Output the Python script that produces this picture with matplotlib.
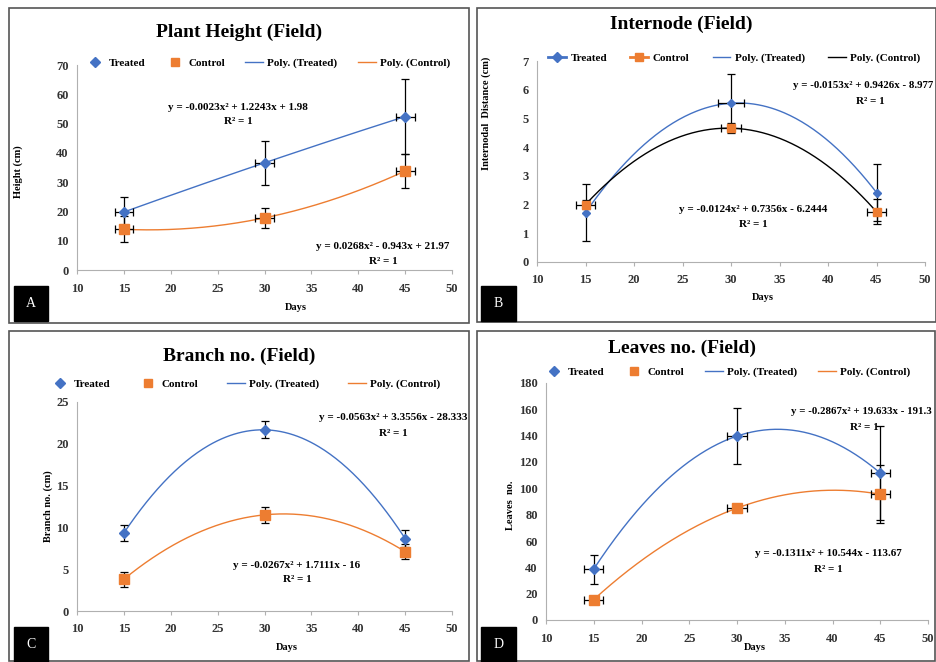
import numpy as np
import matplotlib
matplotlib.use("Agg")
import matplotlib.pyplot as plt
from matplotlib.lines import Line2D
from matplotlib.patches import Rectangle

# data
days = [15, 30, 45]

height_treated = [19.8, 36.6, 52.4]
height_treated_err = [5.0, 7.5, 12.8]
height_control = [13.9, 17.8, 33.8]
height_control_err = [4.5, 3.3, 5.8]

inter_treated = [1.72, 5.53, 2.42]
inter_treated_err = [1.0, 1.0, 1.0]
inter_control = [2.0, 4.66, 1.75]
inter_control_err = [0.15, 0.17, 0.43]

branch_treated = [9.33, 21.67, 8.67]
branch_treated_err = [1.0, 1.0, 1.0]
branch_control = [3.8, 11.5, 7.1]
branch_control_err = [0.9, 0.95, 0.9]

leaves_treated = [38.7, 139.7, 111.6]
leaves_treated_err = [11.0, 21.0, 36.0]
leaves_control = [15.5, 85.0, 95.5]
leaves_control_err = [1.5, 2.0, 22.0]

W, H = 936, 662
BLUE = "#4472C4"
ORANGE = "#ED7D31"
SERIF = "Liberation Serif"

fig = plt.figure(figsize=(W / 100, H / 100), dpi=100)
fig.patch.set_facecolor("white")


def fx(x):
    return x / W


def fy(y):
    return 1 - y / H


def box(x0, y0, x1, y1, **kw):
    fig.patches.append(Rectangle((fx(x0), fy(y1)), fx(x1 - x0), (y1 - y0) / H,
                                 transform=fig.transFigure, **kw))


def txt(x, y, s, **kw):
    d = dict(ha="center", va="center", family=SERIF, fontweight="bold", fontsize=8)
    d.update(kw)
    fig.text(fx(x), fy(y), s, **d)


def panel(rect, ylim, yticks, tr, tr_err, ct, ct_err, xerr_t, xerr_c,
          poly_ctrl_color=ORANGE, small=False):
    l, t, r, b = rect
    ax = fig.add_axes([fx(l), fy(b), fx(r - l), (b - t) / H])
    ax.set_xlim(10, 50)
    ax.set_ylim(*ylim)
    ax.set_xticks(range(10, 51, 5))
    ax.set_yticks(yticks)
    for s in ["top", "right"]:
        ax.spines[s].set_visible(False)
    for s in ["left", "bottom"]:
        ax.spines[s].set_color("#b0b0b0")
    ax.tick_params(axis="y", length=0, pad=6)
    ax.tick_params(axis="x", length=3, color="#b0b0b0", pad=6)
    for lab in ax.get_xticklabels() + ax.get_yticklabels():
        lab.set_family(SERIF)
        lab.set_fontweight("bold")
        lab.set_fontsize(9)
        lab.set_color("#333333")

    xs = np.linspace(15, 45, 200)
    ax.plot(xs, np.polyval(np.polyfit(days, tr, 2), xs), color=BLUE, lw=1, zorder=2)
    ax.plot(xs, np.polyval(np.polyfit(days, ct, 2), xs), color=poly_ctrl_color, lw=1, zorder=2)

    ms_d = 4.5 if small else 5.5
    ms_s = 6 if small else 7
    ax.errorbar(days, tr, yerr=tr_err, xerr=xerr_t, fmt="D", color=BLUE, ms=ms_d,
                ecolor="black", elinewidth=0.9, capsize=3, capthick=0.9, zorder=3)
    ax.errorbar(days, ct, yerr=ct_err, xerr=xerr_c, fmt="s", color=ORANGE, ms=ms_s,
                ecolor="black", elinewidth=0.9, capsize=3, capthick=0.9, zorder=3)
    return ax


def legend(ax, x0, x1, y, line_markers=False, ctrl_color=ORANGE):
    ls = "-" if line_markers else "none"
    handles = [
        Line2D([], [], color=BLUE, marker="D", ms=5, ls=ls, lw=2),
        Line2D([], [], color=ORANGE, marker="s", ms=6, ls=ls, lw=2),
        Line2D([], [], color=BLUE, lw=1),
        Line2D([], [], color=ctrl_color, lw=1),
    ]
    labels = ["Treated", "Control", "Poly. (Treated)", "Poly. (Control)"]
    ax.legend(handles, labels, loc="lower left", ncol=4, mode="expand",
              bbox_to_anchor=(fx(x0), fy(y) - 0.015, fx(x1 - x0), 0.03),
              bbox_transform=fig.transFigure, frameon=False, handlelength=1.6,
              handletextpad=0.4, borderaxespad=0,
              prop=dict(family=SERIF, weight="bold", size=8))


# panel frames
for x0, y0, x1, y1 in [(9, 8, 469, 323), (477, 8, 936, 322),
                       (9, 331, 469, 661), (477, 331, 935, 661)]:
    box(x0, y0, x1, y1, fill=False, edgecolor="#555555", lw=1.2)

# A
ax = panel((77, 65, 452, 270), (0, 70), range(0, 71, 10),
           height_treated, height_treated_err, height_control, height_control_err, 1, 1)
legend(ax, 82, 455, 63)
txt(239, 32, "Plant Height (Field)", fontsize=14)
txt(18, 172, "Height (cm)", rotation=90, fontsize=7.5)
txt(296, 307, "Days", fontsize=7.5)
txt(238, 107, "y = -0.0023x² + 1.2243x + 1.98")
txt(238, 122, "R² = 1")
txt(383, 247, "y = 0.0268x² - 0.943x + 21.97")
txt(383, 261, "R² = 1")

# B
ax = panel((537, 61, 925, 262), (0, 7), range(0, 8),
           inter_treated, inter_treated_err, inter_control, inter_control_err,
           [0, 1.35, 0], 1, poly_ctrl_color="black", small=True)
legend(ax, 544, 925, 58, line_markers=True, ctrl_color="black")
txt(681, 24, "Internode (Field)", fontsize=14)
txt(486, 113, "Internodal  Distance (cm)", rotation=90, fontsize=7.5)
txt(763, 298, "Days", fontsize=7.5)
txt(933, 86, "y = -0.0153x² + 0.9426x - 8.977", ha="right", fontsize=7.8)
txt(870, 101, "R² = 1")
txt(753, 209, "y = -0.0124x² + 0.7356x - 6.2444")
txt(753, 224, "R² = 1")

# C
ax = panel((77, 402, 452, 611), (0, 25), range(0, 26, 5),
           branch_treated, branch_treated_err, branch_control, branch_control_err, None, None)
legend(ax, 47, 445, 384)
txt(239, 356, "Branch no. (Field)", fontsize=14)
txt(48, 506, "Branch no. (cm)", rotation=90, fontsize=7.5)
txt(287, 648, "Days", fontsize=7.5)
txt(393, 418, "y = -0.0563x² + 3.3556x - 28.333")
txt(393, 433, "R² = 1")
txt(297, 565, "y = -0.0267x² + 1.7111x - 16")
txt(297, 580, "R² = 1")

# D
ax = panel((546, 383, 928, 620), (0, 180), range(0, 181, 20),
           leaves_treated, leaves_treated_err, leaves_control, leaves_control_err, 1, 1)
legend(ax, 541, 915, 372)
txt(682, 348, "Leaves no. (Field)", fontsize=14)
txt(511, 505, "Leaves  no.", rotation=90, fontsize=7.5)
txt(755, 648, "Days", fontsize=7.5)
txt(932, 412, "y = -0.2867x² + 19.633x - 191.3", ha="right", fontsize=7.8)
txt(864, 428, "R² = 1")
txt(828, 554, "y = -0.1311x² + 10.544x - 113.67")
txt(828, 570, "R² = 1")

# panel letters
for x0, y0, x1, y1, s in [(14, 286, 48, 321, "A"), (481, 286, 516, 321, "B"),
                          (14, 627, 48, 662, "C"), (481, 627, 516, 662, "D")]:
    box(x0, y0, x1, y1, facecolor="black", edgecolor="black")
    txt((x0 + x1) / 2, (y0 + y1) / 2, s, color="white", fontweight="normal", fontsize=10)

fig.savefig("out.png", dpi=100, facecolor="white")
